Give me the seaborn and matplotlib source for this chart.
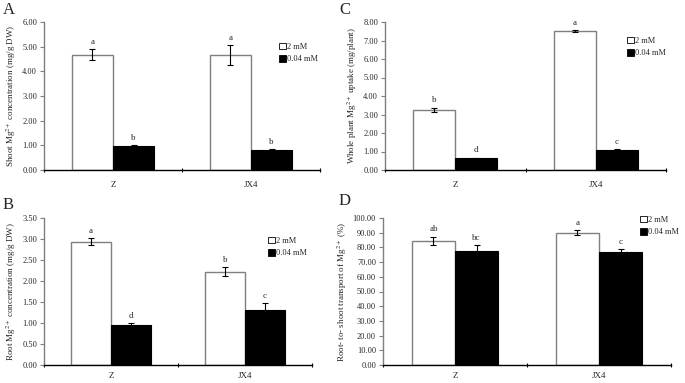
import numpy as np
import pandas as pd
import matplotlib
matplotlib.use("Agg")
import matplotlib.pyplot as plt
import seaborn as sns
from matplotlib.patches import Patch

# ---------------- data ----------------
genotypes = ["Z", "JX4"]
treatments = ["2 mM", "0.04 mM"]

shoot_2mM = [4.68, 4.65]
shoot_2mM_err = [0.22, 0.40]
shoot_004 = [0.97, 0.83]
shoot_004_err = [0.03, 0.02]
shoot_letters = [["a", "a"], ["b", "b"]]

uptake_2mM = [3.25, 7.50]
uptake_2mM_err = [0.12, 0.05]
uptake_004 = [0.64, 1.08]
uptake_004_err = [0.02, 0.04]
uptake_letters = [["b", "a"], ["d", "c"]]

root_2mM = [2.94, 2.22]
root_2mM_err = [0.08, 0.11]
root_004 = [0.96, 1.32]
root_004_err = [0.04, 0.15]
root_letters = [["a", "b"], ["d", "c"]]

transport_2mM = [84.5, 90.0]
transport_2mM_err = [2.8, 1.5]
transport_004 = [77.8, 76.8]
transport_004_err = [3.6, 1.8]
transport_letters = [["ab", "a"], ["bc", "c"]]

# ---------------- style ----------------
sns.set_style("white")
plt.rcParams["font.family"] = ["Liberation Serif", "DejaVu Serif"]
plt.rcParams["mathtext.fontset"] = "stix"

W, H = 685, 383
fig = plt.figure(figsize=(W / 100, H / 100), dpi=100)


def ax_at(left, right, top, bottom):
    return fig.add_axes([left / W, 1 - bottom / H, (right - left) / W, (bottom - top) / H])


panels = [
    dict(box=(44, 320, 22, 170), letter="A", lpos=(3, 2),
         vals=(shoot_2mM, shoot_004), errs=(shoot_2mM_err, shoot_004_err),
         letters=shoot_letters, ymax=6.0, step=1.0,
         ylabel="Shoot Mg$^{2+}$ concentration (mg/g DW)",
         legpos=(279, 43), xpad=8),
    dict(box=(385, 666, 22, 170), letter="C", lpos=(339, 2),
         vals=(uptake_2mM, uptake_004), errs=(uptake_2mM_err, uptake_004_err),
         letters=uptake_letters, ymax=8.0, step=1.0,
         ylabel="Whole plant Mg$^{2+}$ uptake (mg/plant)",
         legpos=(627, 37), xpad=8),
    dict(box=(44, 312, 218, 365), letter="B", lpos=(3, 197),
         vals=(root_2mM, root_004), errs=(root_2mM_err, root_004_err),
         letters=root_letters, ymax=3.5, step=0.5,
         ylabel="Root Mg$^{2+}$ concentration (mg/g DW)",
         legpos=(268, 237), xpad=5),
    dict(box=(383, 671, 218, 365), letter="D", lpos=(339, 193),
         vals=(transport_2mM, transport_004), errs=(transport_2mM_err, transport_004_err),
         letters=transport_letters, ymax=100.0, step=10.0,
         ylabel="Root- to- shoot transport of Mg$^{2+}$ (%)",
         legpos=(640, 216), xpad=5),
]

for p in panels:
    ax = ax_at(*p["box"])
    df = pd.DataFrame({
        "genotype": genotypes * 2,
        "treatment": [treatments[0]] * 2 + [treatments[1]] * 2,
        "value": list(p["vals"][0]) + list(p["vals"][1]),
    })
    sns.barplot(data=df, x="genotype", y="value", hue="treatment",
                order=genotypes, hue_order=treatments,
                palette=["white", "black"], width=0.6, errorbar=None,
                legend=False, ax=ax, saturation=1)
    bar_conts = list(ax.containers)
    for hi, cont in enumerate(bar_conts):
        for ci, bar in enumerate(list(cont)):
            if hi == 0:
                bar.set_edgecolor("#7f7f7f")
                bar.set_linewidth(1.0)
            else:
                bar.set_edgecolor("black")
                bar.set_linewidth(0.8)
            xc = bar.get_x() + bar.get_width() / 2
            h = bar.get_height()
            e = p["errs"][hi][ci]
            ax.errorbar(xc, h, yerr=e, fmt="none", ecolor="black",
                        elinewidth=0.8, capsize=2, capthick=0.8, zorder=5)
            ax.annotate(p["letters"][hi][ci], (xc, h + e), xytext=(0, 2.5),
                        textcoords="offset points", ha="center", va="bottom",
                        fontsize=6.5)
    ax.set_ylim(0, p["ymax"])
    ax.set_xlim(-0.5, 1.5)
    yt = np.arange(0, p["ymax"] + 1e-9, p["step"])
    ax.set_yticks(yt)
    ax.set_yticklabels([f"{v:.2f}" for v in yt], fontsize=6)
    ax.set_xticks([0, 1])
    ax.set_xticklabels(genotypes, fontsize=6.5)
    ax.set_xticks([-0.5, 0.5, 1.5], minor=True)
    ax.tick_params(axis="x", which="major", length=0, pad=p["xpad"])
    ax.tick_params(axis="x", which="minor", length=3, direction="inout",
                   width=0.8, color="black", bottom=True)
    ax.tick_params(axis="y", which="major", length=3, direction="out",
                   width=0.8, color="#7f7f7f", pad=2, left=True)
    for s in ["top", "right"]:
        ax.spines[s].set_visible(False)
    ax.spines["left"].set_color("#7f7f7f")
    ax.spines["left"].set_linewidth(1.0)
    ax.spines["bottom"].set_color("black")
    ax.spines["bottom"].set_linewidth(1.0)
    ax.set_xlabel("")
    ax.set_ylabel(p["ylabel"], fontsize=6.5, labelpad=3)
    ax.grid(False)
    ax.set_facecolor("none")

    fig.text(p["lpos"][0] / W, 1 - p["lpos"][1] / H, p["letter"],
             fontsize=12, ha="left", va="top")
    handles = [Patch(facecolor="white", edgecolor="black", linewidth=0.6),
               Patch(facecolor="black", edgecolor="black", linewidth=0.6)]
    fig.legend(handles, treatments, loc="upper left",
               bbox_to_anchor=(p["legpos"][0] / W, 1 - p["legpos"][1] / H),
               frameon=False, fontsize=6, handlelength=0.8, handleheight=0.8,
               handletextpad=0.2, labelspacing=0.5, borderpad=0, borderaxespad=0)

fig.savefig("out.png", dpi=100)
